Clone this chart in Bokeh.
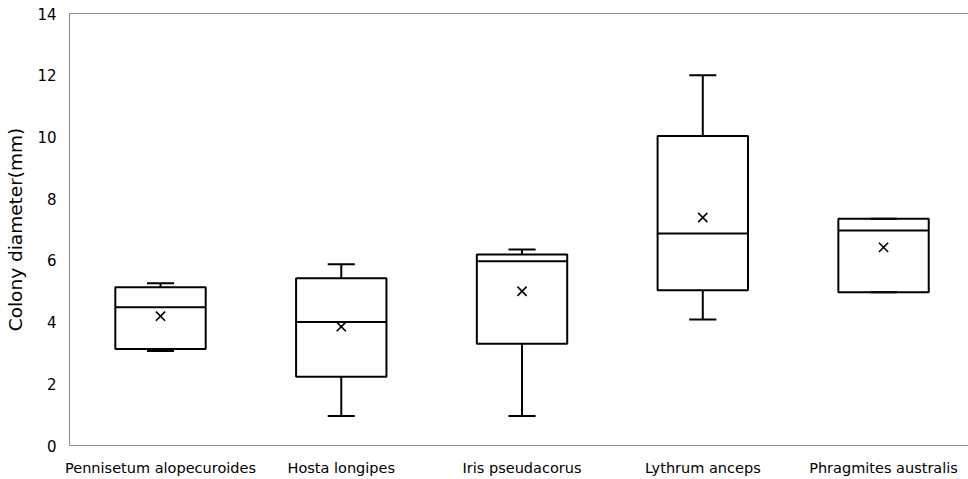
from bokeh.plotting import figure
from bokeh.models import Range1d, FixedTicker, LinearAxis
from bokeh.embed import file_html
from bokeh.resources import INLINE

species = ["Pennisetum alopecuroides", "Hosta longipes", "Iris pseudacorus",
           "Lythrum anceps", "Phragmites australis"]
q1 = [3.13, 2.23, 3.30, 5.03, 4.97]
median = [4.48, 4.00, 5.97, 6.87, 6.97]
q3 = [5.13, 5.42, 6.19, 10.03, 7.35]
whisker_min = [3.06, 0.96, 0.96, 4.08, 4.97]
whisker_max = [5.26, 5.87, 6.35, 12.0, 7.35]
mean = [4.19, 3.85, 5.00, 7.39, 6.42]
y_ticks = [0, 2, 4, 6, 8, 10, 12, 14]

xs = list(range(1, len(species) + 1))
half = 0.25
cap = 0.075

FONT = "DejaVu Sans"
AXIS_COLOR = "#8c8c8c"

p = figure(width=968, height=478, output_backend="svg", toolbar_location=None,
           x_range=Range1d(0.4965, 5.47), y_range=Range1d(0, 14),
           min_border_left=69, min_border_right=0, min_border_top=13,
           min_border_bottom=26)
p.outline_line_color = None
p.grid.visible = False
p.background_fill_color = "white"
p.border_fill_color = "white"

# boxes
p.quad(left=[x - half for x in xs], right=[x + half for x in xs], bottom=q1, top=q3,
       fill_color="white", line_color="black", line_width=2)
# medians
p.segment(x0=[x - half for x in xs], x1=[x + half for x in xs], y0=median, y1=median,
          line_color="black", line_width=2)
# whiskers
p.segment(x0=xs, x1=xs, y0=q3, y1=whisker_max, line_color="black", line_width=2)
p.segment(x0=xs, x1=xs, y0=q1, y1=whisker_min, line_color="black", line_width=2)
# caps
p.segment(x0=[x - cap for x in xs], x1=[x + cap for x in xs], y0=whisker_max, y1=whisker_max,
          line_color="black", line_width=2)
p.segment(x0=[x - cap for x in xs], x1=[x + cap for x in xs], y0=whisker_min, y1=whisker_min,
          line_color="black", line_width=2)
# means
p.scatter(x=xs, y=mean, marker="x", size=13, line_color="black", line_width=1.6)

# x axis
xa = p.xaxis[0]
xa.ticker = FixedTicker(ticks=xs)
xa.major_label_overrides = {x: s for x, s in zip(xs, species)}
xa.major_tick_line_color = None
xa.minor_tick_line_color = None
xa.axis_line_color = AXIS_COLOR
xa.major_label_text_font = FONT
xa.major_label_text_font_size = "14.5px"
xa.major_label_text_color = "black"
xa.major_label_standoff = 8

# y axis
ya = p.yaxis[0]
ya.ticker = FixedTicker(ticks=y_ticks)
ya.major_tick_line_color = None
ya.minor_tick_line_color = None
ya.axis_line_color = AXIS_COLOR
ya.major_label_text_font = FONT
ya.major_label_text_font_size = "15px"
ya.major_label_text_color = "black"
ya.major_label_standoff = 7
ya.axis_label = "Colony diameter(mm)"
ya.axis_label_text_font = FONT
ya.axis_label_text_font_style = "normal"
ya.axis_label_text_font_size = "18.5px"
ya.axis_label_text_color = "black"
ya.axis_label_standoff = 8

# top border line
top = LinearAxis(ticker=FixedTicker(ticks=[]), axis_line_color=AXIS_COLOR,
                 major_tick_line_color=None, minor_tick_line_color=None,
                 major_label_standoff=0, major_label_text_font_size="0px")
p.add_layout(top, "above")

open("out.html", "w").write(file_html(p, INLINE))
